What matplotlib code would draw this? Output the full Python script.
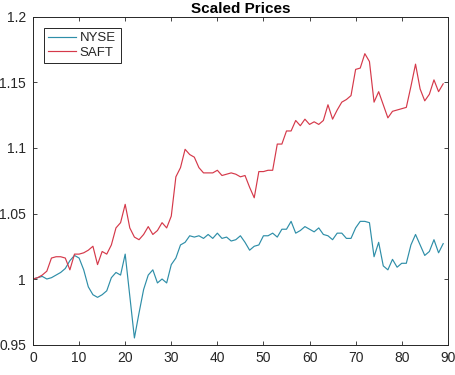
import matplotlib
matplotlib.use('Agg')
import matplotlib.pyplot as plt
import numpy as np

plt.rcParams['font.family'] = ['Liberation Sans', 'DejaVu Sans']

# scaled price series, day 0..89
nyse = [1.000, 1.001, 1.002, 1.000, 1.001, 1.003, 1.005, 1.008, 1.014, 1.018,
        1.016, 1.007, 0.994, 0.988, 0.986, 0.988, 0.991, 1.001, 1.005, 1.003,
        1.019, 0.987, 0.955, 0.974, 0.992, 1.003, 1.007, 0.997, 1.000, 0.997,
        1.011, 1.016, 1.026, 1.028, 1.033, 1.032, 1.033, 1.031, 1.034, 1.031,
        1.035, 1.031, 1.032, 1.029, 1.030, 1.033, 1.028, 1.022, 1.025, 1.026,
        1.033, 1.033, 1.035, 1.032, 1.038, 1.038, 1.044, 1.035, 1.037, 1.040,
        1.038, 1.036, 1.039, 1.034, 1.033, 1.030, 1.035, 1.035, 1.031, 1.031,
        1.039, 1.044, 1.044, 1.043, 1.017, 1.028, 1.010, 1.007, 1.015, 1.009,
        1.012, 1.012, 1.026, 1.034, 1.026, 1.018, 1.021, 1.030, 1.020, 1.027]
saft = [1.000, 1.001, 1.003, 1.006, 1.016, 1.017, 1.017, 1.016, 1.007, 1.019,
        1.019, 1.020, 1.022, 1.025, 1.011, 1.021, 1.019, 1.026, 1.039, 1.043,
        1.057, 1.039, 1.032, 1.030, 1.034, 1.040, 1.034, 1.037, 1.043, 1.039,
        1.048, 1.078, 1.085, 1.099, 1.095, 1.093, 1.085, 1.081, 1.081, 1.081,
        1.083, 1.079, 1.080, 1.081, 1.080, 1.078, 1.079, 1.070, 1.062, 1.082,
        1.082, 1.083, 1.083, 1.103, 1.103, 1.113, 1.113, 1.121, 1.117, 1.122,
        1.118, 1.120, 1.118, 1.121, 1.133, 1.122, 1.129, 1.135, 1.137, 1.140,
        1.160, 1.161, 1.172, 1.166, 1.135, 1.143, 1.133, 1.123, 1.128, 1.129,
        1.130, 1.131, 1.147, 1.164, 1.145, 1.136, 1.141, 1.152, 1.143, 1.149]
labels = ['NYSE', 'SAFT']
x_ticks = [0, 10, 20, 30, 40, 50, 60, 70, 80, 90]
y_ticks = [0.95, 1.0, 1.05, 1.1, 1.15, 1.2]
y_ticklabels = ['0.95', '1', '1.05', '1.1', '1.15', '1.2']

fig = plt.figure(figsize=(4.56, 3.75), dpi=100)
ax = fig.add_axes([0.0724, 0.0813, 0.9096, 0.8734])

days = np.arange(len(nyse))
ax.plot(days, nyse, color='#2e8ea8', lw=0.85, label=labels[0])
ax.plot(days, saft, color='#d5394a', lw=0.85, label=labels[1])

ax.set_xlim(0, 90)
ax.set_ylim(0.95, 1.2)
ax.set_xticks(x_ticks)
ax.set_yticks(y_ticks)
ax.set_yticklabels(y_ticklabels)
ax.tick_params(direction='in', top=True, right=True, length=3, width=0.6,
               labelsize=10, colors='#262626', pad=5)
for s in ax.spines.values():
    s.set_linewidth(0.7)
    s.set_color('#262626')

ax.set_title('Scaled Prices', fontsize=11, fontweight='bold', pad=3)

leg = ax.legend(loc='upper left', fontsize=9.5, fancybox=False, framealpha=1,
                edgecolor='#262626', borderaxespad=0.8, handlelength=2.1,
                handletextpad=0.3, labelspacing=0.15, borderpad=0.35)
leg.get_frame().set_linewidth(0.7)
for t in leg.get_texts():
    t.set_color('#262626')

fig.savefig('out.png', dpi=100)
